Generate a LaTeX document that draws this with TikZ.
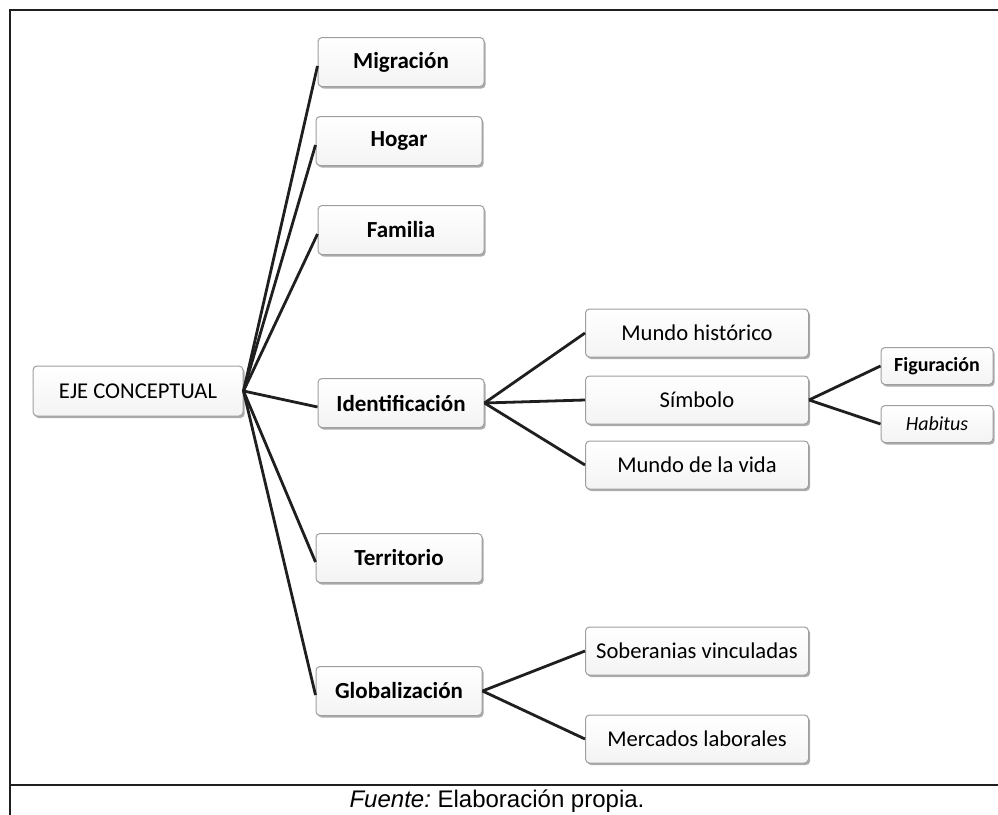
\documentclass[tikz,border=0pt]{standalone}
\usepackage{fontspec}
\setmainfont{Carlito}
\newfontfamily\capfont{Liberation Sans}
\usetikzlibrary{shadows}

\begin{document}
\begin{tikzpicture}[x=0.5pt,y=-0.5pt,
  box/.style={draw=gray!75, line width=0.5pt, rounded corners=2pt,
    top color=white, bottom color=gray!9, inner sep=0pt,
    drop shadow={shadow xshift=0.8pt, shadow yshift=-1pt, fill=gray!65, opacity=1},
    font=\fontsize{11.3}{13}\selectfont},
  mainbox/.style={box, minimum width=83pt, minimum height=24.5pt,
    font=\fontsize{11.5}{13}\selectfont\bfseries},
  subbox/.style={box, minimum width=111.5pt, minimum height=24pt},
  smallbox/.style={box, minimum width=56pt, minimum height=18.5pt,
    font=\fontsize{10}{12}\selectfont},
  link/.style={line width=1.4pt, draw=black!88},
  frame/.style={line width=1pt, draw=black!88}]

  \useasboundingbox (0,0) rectangle (998,815);
  \clip (0,0) rectangle (998,815);

  % outer frame and caption row
  \draw[frame] (10,830) -- (10,10) -- (1010,10);
  \draw[frame] (10,785) -- (1010,785);
  \node (cap) at (497,801) {\capfont\fontsize{12}{14}\selectfont\textit{Fuente:}~Elaboración propia.};

  % root
  \node[box, minimum width=105pt, minimum height=25pt] (eje) at (138,391) {EJE CONCEPTUAL};

  % first level
  \node[mainbox] (mig) at (401,62)  {Migración};
  \node[mainbox] (hog) at (399,141) {Hogar};
  \node[mainbox] (fam) at (401,230) {Familia};
  \node[mainbox] (ide) at (401,403) {Identificación};
  \node[mainbox] (ter) at (399,558) {Territorio};
  \node[mainbox] (glo) at (399,691) {Globalización};

  % second level
  \node[subbox] (mh)  at (697,333) {Mundo histórico};
  \node[subbox] (sim) at (697,400) {Símbolo};
  \node[subbox] (mv)  at (697,465) {Mundo de la vida};
  \node[subbox] (sob) at (697,651) {Soberanias vinculadas};
  \node[subbox] (mer) at (697,739) {Mercados laborales};

  % third level
  \node[smallbox, font=\fontsize{10}{12}\selectfont\bfseries] (fig) at (937,366) {Figuración};
  \node[smallbox] (hab) at (937,424) {\textit{Habitus}};

  % connectors
  \foreach \c in {mig,hog,fam,ide,ter,glo}
    \draw[link] (eje.east) -- ([yshift=-2pt]\c.west);
  \foreach \c in {mh,sim,mv}
    \draw[link] (ide.east) -- (\c.west);
  \foreach \c in {fig,hab}
    \draw[link] (sim.east) -- (\c.west);
  \foreach \c in {sob,mer}
    \draw[link] (glo.east) -- (\c.west);
\end{tikzpicture}
\end{document}
